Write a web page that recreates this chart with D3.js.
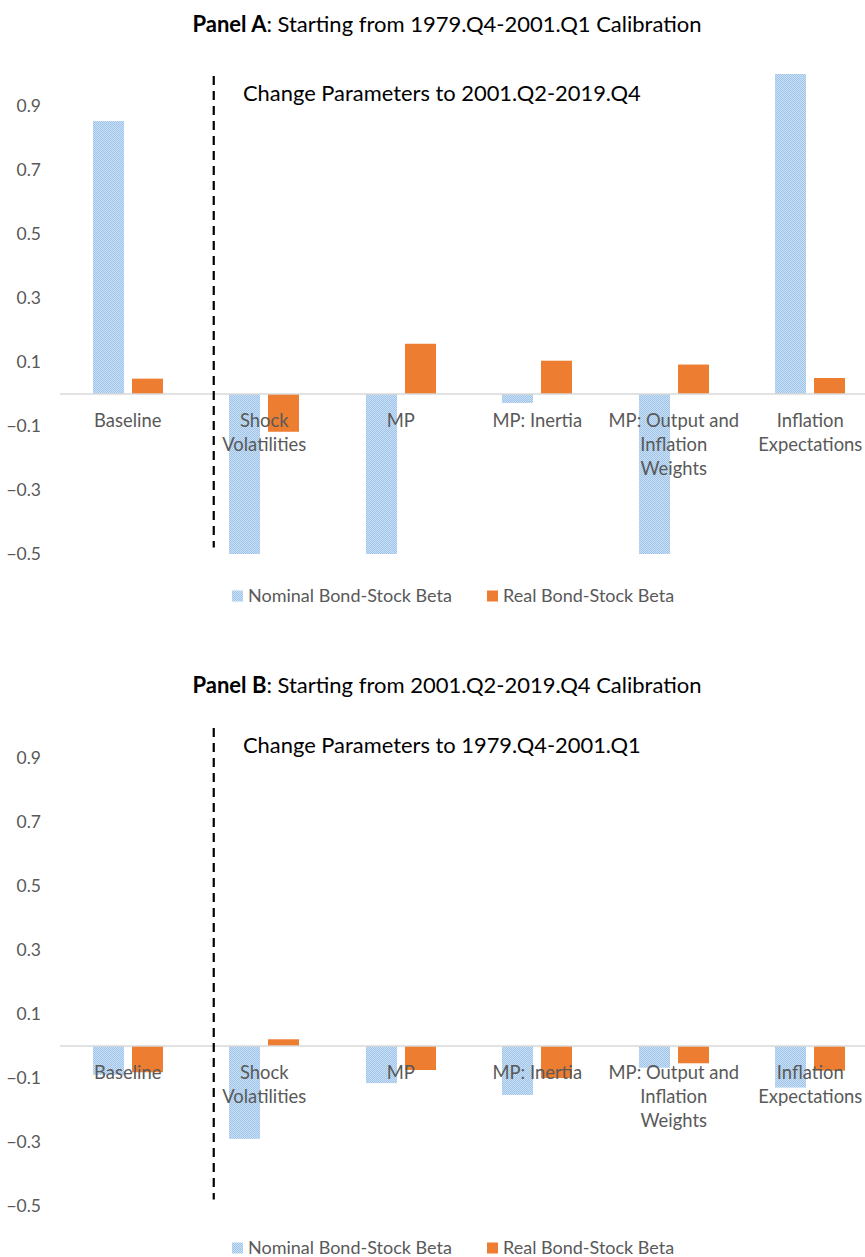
<!DOCTYPE html>
<html>
<head>
<meta charset="utf-8">
<script src="https://cdn.jsdelivr.net/npm/d3@7"></script>
<style>
  body { margin: 0; background: #fff; }
  text { font-family: Lato, "Open Sans", sans-serif; }
</style>
</head>
<body>
<svg id="chart"></svg>
<script>

var width = 865,
    height = 1257;

// Data.
var categories = ["Baseline", "Shock\nVolatilities", "MP", "MP: Inertia",
                  "MP: Output and\nInflation\nWeights", "Inflation\nExpectations"];
var seriesNames = ["Nominal Bond-Stock Beta", "Real Bond-Stock Beta"];
var yTicks = [-0.5, -0.3, -0.1, 0.1, 0.3, 0.5, 0.7, 0.9];

var panelANominal = [0.853, -0.5, -0.5, -0.028, -0.5, 1.0];
var panelAReal    = [0.048, -0.118, 0.157, 0.104, 0.092, 0.05];
var panelBNominal = [-0.09, -0.29, -0.116, -0.153, -0.068, -0.13];
var panelBReal    = [-0.082, 0.021, -0.075, -0.1, -0.054, -0.077];

var panelTitles = [["Panel A", ": Starting from 1979.Q4-2001.Q1 Calibration"],
                   ["Panel B", ": Starting from 2001.Q2-2019.Q4 Calibration"]];
var changeNotes = ["Change Parameters to 2001.Q2-2019.Q4",
                   "Change Parameters to 1979.Q4-2001.Q1"];

var colors = ["url(#blue-dots)", "#ED7D31"];
var textGray = "#595959";

var svg = d3.select("#chart")
    .attr("width", width)
    .attr("height", height);

// Light blue checker fill of the nominal series.
var defs = svg.append("defs");
var pat = defs.append("pattern")
    .attr("id", "blue-dots")
    .attr("patternUnits", "userSpaceOnUse")
    .attr("width", 2)
    .attr("height", 2);
pat.append("rect").attr("width", 2).attr("height", 2).attr("fill", "#cadff4");
pat.append("rect").attr("width", 1).attr("height", 1).attr("fill", "#9fc5ea");
pat.append("rect").attr("x", 1).attr("y", 1).attr("width", 1).attr("height", 1).attr("fill", "#9fc5ea");

var x = d3.scaleBand()
    .domain(categories)
    .range([59.5, 878.5]);

var x1 = d3.scaleBand()
    .domain([0, 1])
    .range([x.bandwidth() / 2 - 35, x.bandwidth() / 2 + 35])
    .paddingInner(8 / 39);

var y = d3.scaleLinear()
    .domain([-0.5, 1.0])
    .range([554, 74])
    .clamp(true);

function drawPanel(offset, titleY, title, note, series) {
    var g = svg.append("g").attr("transform", "translate(0," + offset + ")");

    // Title
    var t = g.append("text")
        .attr("x", 447)
        .attr("y", titleY)
        .attr("text-anchor", "middle")
        .attr("dy", "0.35em")
        .style("font-size", "22px")
        .attr("fill", "#000");
    t.append("tspan").style("font-weight", "bold").text(title[0]);
    t.append("tspan").text(title[1]);

    // y tick labels
    var yAxis = g.append("g")
        .attr("transform", "translate(41,0)")
        .call(d3.axisLeft(y).tickValues(yTicks).tickSize(0).tickPadding(0)
            .tickFormat(d3.format(".1f")));
    yAxis.select(".domain").remove();
    yAxis.selectAll("text")
        .attr("fill", textGray)
        .style("font-size", "17.5px")
        .style("font-family", "Lato, sans-serif");

    // Bars (pixel aligned so the dotted fill stays even)
    var groups = g.append("g")
        .selectAll("g")
        .data(categories)
        .enter().append("g")
            .attr("transform", function(d) { return "translate(" + Math.round(x(d)) + ",0)"; });

    groups.selectAll("rect")
        .data(function(d, i) { return series.map(function(s, k) { return {k: k, v: s[i]}; }); })
        .enter().append("rect")
            .attr("x", function(d) { return Math.round(x1(d.k)); })
            .attr("width", Math.round(x1.bandwidth()))
            .attr("y", function(d) { return Math.min(y(d.v), y(0)); })
            .attr("height", function(d) { return Math.abs(y(d.v) - y(0)); })
            .attr("fill", function(d) { return colors[d.k]; });

    // Zero line
    g.append("line")
        .attr("x1", 60)
        .attr("x2", width)
        .attr("y1", y(0))
        .attr("y2", y(0))
        .attr("stroke", "#d9d9d9")
        .attr("stroke-width", 1.5);

    // Category labels, drawn over the bars
    var labels = g.append("g")
        .selectAll("text")
        .data(categories)
        .enter().append("text")
            .attr("text-anchor", "middle")
            .attr("fill", textGray)
            .style("font-size", "18.4px")
            .attr("transform", function(d) {
                return "translate(" + (x(d) + x.bandwidth() / 2) + "," + (y(0) + 27) + ")";
            });
    labels.selectAll("tspan")
        .data(function(d) { return d.split("\n"); })
        .enter().append("tspan")
            .attr("x", 0)
            .attr("y", function(d, i) { return i * 24; })
            .attr("dy", "0.35em")
            .text(function(d) { return d; });

    // Dashed separator after the baseline
    var sepX = x(categories[1]) + x.step() * 0.13;
    g.append("line")
        .attr("x1", sepX)
        .attr("x2", sepX)
        .attr("y1", y(0.994))
        .attr("y2", y(-0.48))
        .attr("stroke", "#000")
        .attr("stroke-width", 2.2)
        .attr("stroke-dasharray", "9,6");

    g.append("text")
        .attr("x", 243)
        .attr("y", y(0.94))
        .attr("dy", "0.35em")
        .style("font-size", "21.9px")
        .attr("fill", "#000")
        .text(note);

    // Legend
    var legend = g.append("g")
        .attr("transform", "translate(0," + (y(-0.5) + 42) + ")");
    var items = legend.selectAll("g")
        .data(seriesNames)
        .enter().append("g")
            .attr("transform", function(d, i) { return "translate(" + [232, 487][i] + ",0)"; });
    items.append("rect")
        .attr("x", 0)
        .attr("y", -5.5)
        .attr("width", 11)
        .attr("height", 11)
        .attr("fill", function(d, i) { return colors[i]; });
    items.append("text")
        .attr("x", 16)
        .attr("dy", "0.35em")
        .attr("fill", textGray)
        .style("font-size", "18px")
        .text(function(d) { return d; });
}

drawPanel(0, 24, panelTitles[0], changeNotes[0], [panelANominal, panelAReal]);
drawPanel(652, 33, panelTitles[1], changeNotes[1], [panelBNominal, panelBReal]);

</script>
</body>
</html>
